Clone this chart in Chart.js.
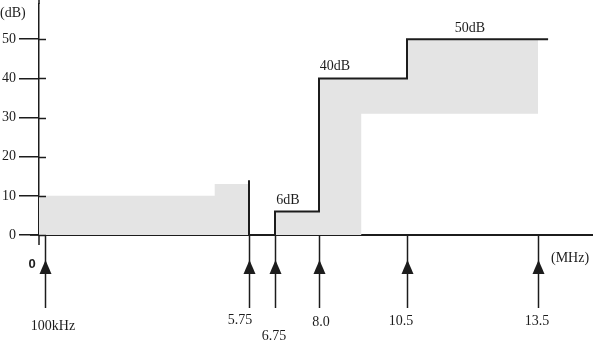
<!DOCTYPE html>
<html>
<head>
<meta charset="utf-8">
<script src="https://cdn.jsdelivr.net/npm/chart.js@4.4.1/dist/chart.umd.min.js"></script>
<style>
  html, body { margin: 0; padding: 0; background: #fff; }
  #wrap { width: 595px; height: 348px; position: relative; }
</style>
</head>
<body>
<div id="wrap"><canvas id="maskChart"></canvas></div>
<script>
// Eksen değerleri
const yTicks = [0, 10, 20, 30, 40, 50];
const markFreqs = [0.1, 5.75, 6.75, 8.0, 10.5, 13.5];          // MHz
const markLabels = ['100kHz', '5.75', '6.75', '8.0', '10.5', '13.5'];

// Alçak bant gri alan (0 dB'e kadar)
const lowBandX = [0, 4.8, 5.75];
const lowBandY = [10, 13, 13];

// Yüksek bant gri alan: üst ve alt sınır
const highTopX = [6.75, 8.0, 10.5, 13.5];
const highTopY = [6, 40, 50, 50];
const highBottomX = [6.75, 9.2, 13.5];
const highBottomY = [0, 31, 31];

// Siyah basamak çizgisi
const maskX = [6.75, 6.75, 8.0, 10.5, 13.73];
const maskY = [0, 6, 40, 50, 50];

// 5.75 MHz dikey çizgi
const edgeX = [5.75, 5.75];
const edgeY = [0, 14];

// Basamak etiketleri
const stepLabels = ['6dB', '40dB', '50dB'];
const stepLabelX = [7.12, 8.45, 11.94];
const stepLabelY = [8.9, 43.1, 52.8];

// x ekseni ölçekli değil: parça parça doğrusal eşleme (MHz -> eksen uzunluğu px)
const knotMHz = [0, 0.1, 5.75, 6.75, 8.0, 10.5, 13.5, 14.73];
const knotPos = [0, 6, 210, 236, 280, 368, 499, 553];

function interp(v, xs, ys) {
    const n = xs.length - 1;
    if (v <= xs[0]) return ys[0] + (v - xs[0]) * (ys[1] - ys[0]) / (xs[1] - xs[0]);
    for (let i = 1; i <= n; i++) {
        if (v <= xs[i]) return ys[i - 1] + (v - xs[i - 1]) * (ys[i] - ys[i - 1]) / (xs[i] - xs[i - 1]);
    }
    return ys[n] + (v - xs[n]) * (ys[n] - ys[n - 1]) / (xs[n] - xs[n - 1]);
}

class PiecewiseScale extends Chart.LinearScale {
    getPixelForValue(value) {
        const total = knotPos[knotPos.length - 1];
        return this.getPixelForDecimal(interp(value, knotMHz, knotPos) / total);
    }
    getValueForPixel(pixel) {
        const total = knotPos[knotPos.length - 1];
        return interp(this.getDecimalForPixel(pixel) * total, knotPos, knotMHz);
    }
}
PiecewiseScale.id = 'piecewise';
PiecewiseScale.defaults = Chart.LinearScale.defaults;
Chart.register(PiecewiseScale);

function toPoints(xs, ys) {
    return xs.map((x, i) => ({ x: x, y: ys[i] }));
}

const INK = '#1c1c1c';
const SHADE = '#e4e4e4';
const SERIF = '"Liberation Serif", "DejaVu Serif", serif';

// Oklar, ek çizgiler ve yazılar
const annotations = {
    id: 'annotations',
    afterDraw(chart) {
        const ctx = chart.ctx;
        const xs = chart.scales.x;
        const ys = chart.scales.y;
        const area = chart.chartArea;
        const axisY = ys.getPixelForValue(0);

        ctx.save();
        ctx.strokeStyle = INK;
        ctx.fillStyle = INK;
        ctx.lineWidth = 1.5;

        // y ekseni işaretlerinin iç kısmı
        yTicks.forEach(v => {
            const py = Math.round(ys.getPixelForValue(v)) + 0.5;
            ctx.beginPath();
            ctx.moveTo(area.left, py);
            ctx.lineTo(area.left + 7, py);
            ctx.stroke();
        });

        // y ekseni yukarı ve aşağı uzantısı
        ctx.beginPath();
        ctx.moveTo(area.left, 0);
        ctx.lineTo(area.left, area.top);
        ctx.moveTo(area.left, axisY);
        ctx.lineTo(area.left, axisY + 10);
        ctx.stroke();

        // x ekseni sola uzantısı
        ctx.beginPath();
        ctx.moveTo(area.left - 9, axisY);
        ctx.lineTo(area.left, axisY);
        ctx.stroke();

        // frekans okları
        markFreqs.forEach((f, i) => {
            const px = Math.round(xs.getPixelForValue(f)) + 0.5;
            ctx.beginPath();
            ctx.moveTo(px, axisY);
            ctx.lineTo(px, 308);
            ctx.stroke();
            ctx.beginPath();
            ctx.moveTo(px, 260);
            ctx.lineTo(px - 6, 274);
            ctx.lineTo(px + 6, 274);
            ctx.closePath();
            ctx.fill();
        });

        // frekans etiketleri
        const labelDx = [8, -9, -1, 2, -6, -1];
        const labelY = [326, 320, 336, 322, 321, 321];
        ctx.font = '14px ' + SERIF;
        ctx.textAlign = 'center';
        ctx.textBaseline = 'middle';
        markFreqs.forEach((f, i) => {
            const px = xs.getPixelForValue(f);
            ctx.fillText(markLabels[i], px + labelDx[i], labelY[i]);
        });

        // basamak etiketleri
        stepLabels.forEach((t, i) => {
            ctx.fillText(t, xs.getPixelForValue(stepLabelX[i]), ys.getPixelForValue(stepLabelY[i]));
        });

        // birimler
        ctx.textAlign = 'left';
        ctx.fillText('(dB)', 0, 13);
        ctx.fillText('(MHz)', 551, 258);

        // başlangıç "0"
        ctx.font = 'bold 13px "Liberation Sans", Arial, sans-serif';
        ctx.textAlign = 'center';
        ctx.fillText('0', 32, 264);

        ctx.restore();
    }
};

const ctx = document.getElementById('maskChart').getContext('2d');

new Chart(ctx, {
    type: 'line',
    data: {
        datasets: [
            {
                data: toPoints(maskX, maskY),
                stepped: true,
                borderColor: INK,
                borderWidth: 2,
                pointRadius: 0,
                fill: false
            },
            {
                data: toPoints(edgeX, edgeY),
                borderColor: INK,
                borderWidth: 2,
                pointRadius: 0,
                fill: false
            },
            {
                data: toPoints(lowBandX, lowBandY),
                stepped: true,
                borderColor: 'rgba(0,0,0,0)',
                borderWidth: 0,
                backgroundColor: SHADE,
                pointRadius: 0,
                fill: 'origin'
            },
            {
                data: toPoints(highTopX, highTopY),
                stepped: true,
                borderColor: 'rgba(0,0,0,0)',
                borderWidth: 0,
                backgroundColor: SHADE,
                pointRadius: 0,
                fill: '+1'
            },
            {
                data: toPoints(highBottomX, highBottomY),
                stepped: true,
                borderColor: 'rgba(0,0,0,0)',
                borderWidth: 0,
                pointRadius: 0,
                fill: false
            }
        ]
    },
    options: {
        responsive: true,
        maintainAspectRatio: false,
        animation: false,
        layout: {
            padding: { top: 4, right: 3, bottom: 113, left: 0 }
        },
        plugins: {
            legend: { display: false },
            tooltip: { enabled: false }
        },
        scales: {
            x: {
                type: 'piecewise',
                min: knotMHz[0],
                max: knotMHz[knotMHz.length - 1],
                grid: { display: false },
                ticks: { display: false },
                border: { display: true, color: INK, width: 2 },
                afterFit: s => { s.height = 0; s.paddingLeft = 0; s.paddingRight = 0; }
            },
            y: {
                min: 0,
                max: 59,
                afterBuildTicks: s => { s.ticks = yTicks.map(v => ({ value: v })); },
                afterFit: s => { s.width = 39; s.paddingTop = 0; s.paddingBottom = 0; },
                grid: {
                    drawOnChartArea: false,
                    drawTicks: true,
                    tickLength: 20,
                    color: INK,
                    lineWidth: 1.5
                },
                border: { display: true, color: INK, width: 1.5 },
                ticks: {
                    padding: 3,
                    color: INK,
                    font: { family: SERIF, size: 14 }
                }
            }
        }
    },
    plugins: [annotations]
});
</script>
</body>
</html>
